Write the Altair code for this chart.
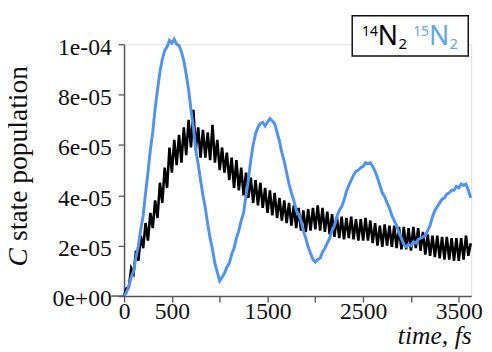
import altair as alt
import pandas as pd

# time grid (fs), one sample every 25 fs
times = list(range(0, 3650, 25))

# 14N2 C-state population, units of 1e-5
n14_vals = [
    0.0, 0.3, 0.35, 1.1, 0.9, 1.8, 1.4, 2.4, 1.9, 2.9, 2.2, 3.3, 2.7, 3.8, 3.1, 4.5,
    3.7, 5.1, 4.3, 5.9, 4.9, 6.2, 5.2, 6.4, 5.3, 6.7, 5.6, 7.0, 5.9, 7.4, 5.8, 6.7,
    5.5, 6.6, 5.5, 6.5, 5.4, 6.8, 5.3, 6.2, 5.0, 5.9, 4.9, 5.7, 4.6, 5.5, 4.3, 5.4,
    4.2, 5.1, 4.0, 4.9, 3.9, 4.7, 3.7, 4.6, 3.6, 4.5, 3.5, 4.3, 3.3, 4.2, 3.2, 4.1,
    3.1, 3.9, 3.0, 3.8, 2.9, 3.7, 2.8, 3.6, 2.7, 3.5, 2.6, 3.4, 2.55, 3.45, 2.6, 3.5,
    2.65, 3.6, 2.6, 3.5, 2.55, 3.35, 2.45, 3.25, 2.35, 3.15, 2.3, 3.15, 2.25, 3.1, 2.3, 3.15,
    2.25, 3.05, 2.2, 3.05, 2.2, 3.1, 2.2, 3.0, 2.1, 2.9, 2.0, 2.8, 1.95, 2.85, 2.0, 2.8,
    1.95, 2.8, 1.9, 2.75, 1.85, 2.75, 1.85, 2.7, 1.8, 2.75, 1.9, 2.7, 1.8, 2.55, 1.65, 2.45,
    1.6, 2.4, 1.55, 2.4, 1.5, 2.35, 1.45, 2.35, 1.45, 2.3, 1.4, 2.3, 1.4, 2.3, 1.45, 2.4,
    1.6, 2.1,
]

# 15N2 C-state population, units of 1e-5
n15_vals = [
    0.0, 0.15, 0.4, 0.75, 1.0, 1.55, 2.0, 2.65, 3.2, 4.1, 4.9, 5.8, 6.5, 7.45, 8.2, 8.9,
    9.4, 9.75, 9.9, 10.15, 10.05, 10.2, 10.0, 9.95, 9.7, 9.35, 8.8, 8.2, 7.4, 6.7, 5.8, 5.25,
    4.6, 4.0, 3.5, 2.85, 2.3, 1.85, 1.3, 0.95, 0.6, 0.75, 0.9, 1.15, 1.3, 1.65, 1.9, 2.3,
    2.6, 3.0, 3.3, 4.0, 4.6, 5.4, 6.0, 6.45, 6.7, 6.85, 6.9, 6.75, 6.9, 7.05, 6.95, 6.85,
    6.5, 6.15, 5.7, 5.35, 4.9, 4.45, 4.1, 3.8, 3.4, 3.25, 3.0, 2.6, 2.3, 1.95, 1.7, 1.45,
    1.35, 1.45, 1.5, 1.75, 1.9, 2.1, 2.3, 2.6, 2.8, 3.15, 3.4, 3.55, 3.8, 4.15, 4.4, 4.6,
    4.8, 4.95, 5.0, 5.1, 5.15, 5.3, 5.25, 5.3, 5.15, 4.95, 4.7, 4.4, 4.1, 3.95, 3.7, 3.5,
    3.2, 3.0, 2.8, 2.5, 2.3, 2.05, 1.95, 2.05, 2.0, 2.15, 2.1, 2.25, 2.3, 2.35, 2.4, 2.6,
    2.8, 3.15, 3.4, 3.55, 3.7, 3.85, 3.9, 4.05, 4.1, 4.2, 4.2, 4.35, 4.3, 4.45, 4.4, 4.45,
    4.2, 3.9,
]

x_tick_values = [0, 500, 1000, 1500, 2000, 2500, 3000, 3500]
x_tick_labels = ["0", "500", "", "1500", "", "2500", "", "3500"]
y_tick_steps = [0, 2, 4, 6, 8, 10]  # in 1e-5
y_tick_labels = ["0e+00", "2e-05", "4e-05", "6e-05", "8e-05", "1e-04"]

BLUE = "#4f92f5"
LEGEND_BLUE = "#5fa6ee"

df14 = pd.DataFrame({"time": times[:len(n14_vals)], "pop": [v * 1e-5 for v in n14_vals]})
df15 = pd.DataFrame({"time": times[:len(n15_vals)], "pop": [v * 1e-5 for v in n15_vals]})
one = pd.DataFrame({"k": [0]})

x_label_expr = " : ".join(
    f"datum.value == {v} ? '{l}'" for v, l in zip(x_tick_values, x_tick_labels)
) + " : ''"
y_label_expr = " : ".join(
    f"round(datum.value * 1e5) == {s} ? '{l}'" for s, l in zip(y_tick_steps, y_tick_labels)
) + " : ''"

W, H = 353, 256
xscale = alt.Scale(domain=[0, 3630], nice=False, zero=False)
yscale = alt.Scale(domain=[0, 1e-4], nice=False)

xaxis = alt.Axis(
    values=x_tick_values, labelExpr=x_label_expr, grid=False,
    domainColor="#555", domainWidth=1.5, tickColor="#555", tickWidth=1.3, tickSize=6,
    labelFont="Liberation Serif", labelFontSize=24, labelColor="#111", labelPadding=-2,
    labelOverlap=False, labelFlush=False, labelBound=False,
    title="time, fs", titleFont="Liberation Serif", titleFontSize=26, titleFontStyle="italic",
    titleFontWeight="normal", titleColor="#111", titleAnchor="end", titleAlign="right",
    titleBaseline="alphabetic", titleX=W, titleY=48,
)
yaxis = alt.Axis(
    values=[s * 1e-5 for s in y_tick_steps], labelExpr=y_label_expr, grid=False,
    domainColor="#555", domainWidth=1.5, tickColor="#555", tickWidth=1.3, tickSize=6,
    labelFont="Liberation Serif", labelFontSize=24, labelColor="#111", labelPadding=7,
    labelOverlap=False, labelFlush=False, labelBound=False, labelOffset=3, title=None,
)

line14 = alt.Chart(df14).mark_line(color="#000", strokeWidth=2.6).encode(
    x=alt.X("time:Q", scale=xscale, axis=xaxis),
    y=alt.Y("pop:Q", scale=yscale, axis=yaxis),
)
line15 = alt.Chart(df15).mark_line(color=BLUE, strokeWidth=3).encode(
    x=alt.X("time:Q", scale=xscale),
    y=alt.Y("pop:Q", scale=yscale),
)

zero_tick = alt.Chart(one).mark_rule(color="#555", strokeWidth=1.5).encode(
    x=alt.value(-13), x2=alt.value(0), y=alt.datum(0)
)

# y title: italic C + regular rest
ytitle_c = alt.Chart(one).mark_text(
    text="C", font="Liberation Serif", fontSize=28, fontStyle="italic", angle=270,
    align="left", baseline="alphabetic", color="#111",
).encode(x=alt.value(-99), y=alt.value(226))
ytitle_rest = alt.Chart(one).mark_text(
    text="state population", font="Liberation Serif", fontSize=28, angle=270,
    align="left", baseline="alphabetic", color="#111",
).encode(x=alt.value(-99), y=alt.value(200))

# legend box
legend_box = alt.Chart(one).mark_rect(fill="white", stroke="#111", strokeWidth=1.5).encode(
    x=alt.value(232), x2=alt.value(350), y=alt.value(-29), y2=alt.value(12)
)

def txt(s, x, y, size, color):
    return alt.Chart(one).mark_text(
        text=s, font="Noto Sans", fontSize=size, align="left", baseline="alphabetic", color=color
    ).encode(x=alt.value(x), y=alt.value(y))

legend_txt = [
    txt("14", 242, -8, 14, "#000"), txt("N", 258, 1, 27, "#000"), txt("2", 279, 5, 15, "#000"),
    txt("15", 294, -8, 14, LEGEND_BLUE), txt("N", 310, 1, 27, LEGEND_BLUE), txt("2", 331, 5, 15, LEGEND_BLUE),
]

chart = alt.layer(
    line14, line15, zero_tick, ytitle_c, ytitle_rest, legend_box, *legend_txt
).properties(
    width=W, height=H,
    autosize=alt.AutoSizeParams(type="none"),
    padding={"left": 118, "top": 34, "right": 13, "bottom": 54},
).configure_view(stroke=None).configure(background="white")

chart.save("out.html", embed_options={"renderer": "svg", "actions": False})
